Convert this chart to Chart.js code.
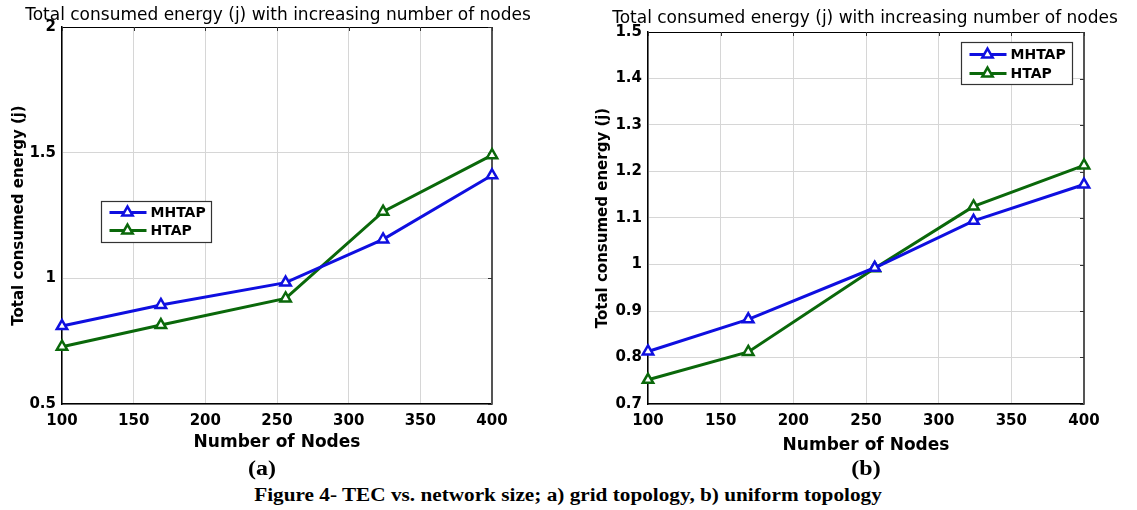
<!DOCTYPE html>
<html><head><meta charset="utf-8">
<script src="https://cdn.jsdelivr.net/npm/chart.js@4.4.1/dist/chart.umd.min.js"></script>
<style>
html,body{margin:0;padding:0;background:#fff;}
#wrap{position:relative;width:1137px;height:510px;overflow:hidden;background:#fff;}
.cv{position:absolute;top:0;height:460px;}
.t{position:absolute;white-space:nowrap;font-family:"DejaVu Sans";font-size:17px;color:#000;line-height:1;transform:translateX(-50%);}
.s{position:absolute;white-space:nowrap;font-family:"Liberation Serif";font-weight:bold;color:#000;line-height:1;transform-origin:50% 50%;}
</style></head>
<body><div id="wrap">
<div class="cv" style="left:0;width:545px;"><canvas id="c1"></canvas></div>
<div class="cv" style="left:570px;width:567px;"><canvas id="c2"></canvas></div>
<div class="t" style="left:278px;top:6px;">Total consumed energy (j) with increasing number of nodes</div>
<div class="t" style="left:865px;top:9px;">Total consumed energy (j) with increasing number of nodes</div>
<div class="s" style="left:262px;top:458px;font-size:20px;transform:translateX(-50%) scaleX(1.2);">(a)</div>
<div class="s" style="left:866px;top:458px;font-size:20px;transform:translateX(-50%) scaleX(1.2);">(b)</div>
<div class="s" style="left:568px;top:486px;font-size:18px;transform:translateX(-50%) scaleX(1.18);">Figure 4- TEC vs. network size; a) grid topology, b) uniform topology</div>
</div>
<script>
// ---- data ----
const nodes = [100, 169, 256, 324, 400];
const seriesNames = ['MHTAP', 'HTAP'];
const gridMHTAP = [0.81, 0.894, 0.983, 1.155, 1.41];
const gridHTAP = [0.728, 0.814, 0.92, 1.265, 1.49];
const uniformMHTAP = [0.813, 0.882, 0.993, 1.094, 1.172];
const uniformHTAP = [0.752, 0.812, 0.992, 1.125, 1.213];
const xTicks = [100, 150, 200, 250, 300, 350, 400];
const gridYTicks = [0.5, 1, 1.5, 2];
const uniformYTicks = [0.7, 0.8, 0.9, 1, 1.1, 1.2, 1.3, 1.4, 1.5];
const xTitle = 'Number of Nodes';
const yTitle = 'Total consumed energy (j)';

const BLUE = '#0f0fe0';
const GREEN = '#0a680a';
const FONT = 'DejaVu Sans';

const framePlugin = {
  id: 'frame',
  beforeDatasetsDraw(chart) {
    const {ctx, chartArea: a} = chart;
    ctx.save();
    ctx.strokeStyle = '#000';
    ctx.lineWidth = 1;
    ctx.beginPath();
    ctx.moveTo(a.left, a.top + 0.5); ctx.lineTo(a.right, a.top + 0.5);
    ctx.stroke();
    ctx.strokeStyle = '#555';
    ctx.lineWidth = 2;
    ctx.beginPath();
    ctx.moveTo(a.right, a.top); ctx.lineTo(a.right, a.bottom);
    ctx.stroke();
    ctx.lineWidth = 1;
    ctx.strokeStyle = '#333';
    const ys = chart.scales.y, xs = chart.scales.x;
    ys.ticks.forEach(t => { const p = Math.round(ys.getPixelForValue(t.value)) + 0.5; ctx.beginPath(); ctx.moveTo(a.right - 4, p); ctx.lineTo(a.right, p); ctx.stroke(); });
    xs.ticks.forEach(t => { const p = Math.round(xs.getPixelForValue(t.value)) + 0.5; ctx.beginPath(); ctx.moveTo(p, a.top); ctx.lineTo(p, a.top + 4); ctx.stroke(); });
    ctx.restore();
  }
};

function tri(ctx, x, y, r) {
  let rad = 0;
  ctx.beginPath();
  ctx.moveTo(x + Math.sin(rad) * r, y - Math.cos(rad) * r);
  rad += 2 * Math.PI / 3;
  ctx.lineTo(x + Math.sin(rad) * r, y - Math.cos(rad) * r);
  rad += 2 * Math.PI / 3;
  ctx.lineTo(x + Math.sin(rad) * r, y - Math.cos(rad) * r);
  ctx.closePath();
}

const boxLegendPlugin = {
  id: 'boxLegend',
  afterDatasetsDraw(chart, args, opts) {
    const {ctx, chartArea: a} = chart;
    const x0 = Math.round(a.left + opts.fx * (a.right - a.left)) + 0.5;
    const y0 = Math.round(a.top + opts.fy * (a.bottom - a.top)) + 0.5;
    ctx.save();
    ctx.fillStyle = '#fff';
    ctx.fillRect(x0, y0, opts.w, opts.h);
    ctx.strokeStyle = '#333';
    ctx.lineWidth = 1.2;
    ctx.strokeRect(x0, y0, opts.w, opts.h);
    chart.data.datasets.forEach((ds, i) => {
      const yy = y0 + opts.rows[i];
      ctx.strokeStyle = ds.borderColor;
      ctx.lineWidth = 3;
      ctx.beginPath(); ctx.moveTo(x0 + 8, yy); ctx.lineTo(x0 + 45, yy); ctx.stroke();
      tri(ctx, x0 + 26, yy, 6);
      ctx.fillStyle = '#fff'; ctx.fill();
      ctx.lineWidth = 2.5; ctx.stroke();
      ctx.fillStyle = '#000';
      ctx.font = 'bold 14px "' + FONT + '"';
      ctx.textBaseline = 'middle';
      ctx.textAlign = 'left';
      ctx.fillText(ds.label, x0 + 49, yy + 1);
    });
    ctx.restore();
  }
};

function mkDataset(label, ys, color) {
  return {
    label: label,
    data: nodes.map((n, i) => ({x: n, y: ys[i]})),
    borderColor: color,
    backgroundColor: color,
    borderWidth: 3,
    pointStyle: 'triangle',
    pointRadius: 6,
    pointHoverRadius: 6,
    pointBorderWidth: 2.5,
    pointBackgroundColor: '#fff',
    pointBorderColor: color,
    tension: 0,
    clip: false
  };
}

function makeChart(id, mh, ht, yTicks, cfg) {
  return new Chart(document.getElementById(id), {
    type: 'line',
    data: { datasets: [mkDataset(seriesNames[0], mh, BLUE), mkDataset(seriesNames[1], ht, GREEN)] },
    plugins: [framePlugin, boxLegendPlugin],
    options: {
      responsive: true,
      maintainAspectRatio: false,
      animation: false,
      events: [],
      layout: { padding: { left: 0, right: cfg.padRight, top: cfg.padTop, bottom: 0 } },
      plugins: {
        legend: { display: false },
        tooltip: { enabled: false },
        title: { display: false },
        boxLegend: cfg.legend
      },
      scales: {
        x: {
          type: 'linear',
          min: xTicks[0],
          max: xTicks[xTicks.length - 1],
          afterBuildTicks(s) { s.ticks = xTicks.map(v => ({value: v})); },
          afterFit(s) { s.height = 56; },
          grid: { color: '#d6d6d6', lineWidth: 1, drawTicks: false },
          border: { color: '#000', width: 1.5 },
          ticks: { color: '#000', padding: 8, maxRotation: 0, font: { family: FONT, size: 15, weight: 'bold' } },
          title: { display: true, text: xTitle, color: '#000', padding: { top: 0, bottom: cfg.xTitlePad }, font: { family: FONT, size: 17, weight: 'bold' } }
        },
        y: {
          type: 'linear',
          min: yTicks[0],
          max: yTicks[yTicks.length - 1],
          afterBuildTicks(s) { s.ticks = yTicks.map(v => ({value: v})); },
          afterFit(s) { s.width = cfg.yWidth; },
          grid: { color: '#d6d6d6', lineWidth: 1, drawTicks: false },
          border: { color: '#000', width: 1.5 },
          ticks: { color: '#000', padding: 6, font: { family: FONT, size: 15, weight: 'bold' },
                   callback: v => String(Math.round(v * 10) / 10) },
          title: { display: true, text: yTitle, color: '#000', padding: { top: cfg.yTitlePad, bottom: 0 }, font: { family: FONT, size: 15, weight: 'bold' } }
        }
      }
    }
  });
}

makeChart('c1', gridMHTAP, gridHTAP, gridYTicks, {
  padRight: 53, padTop: 27, yWidth: 62, xTitlePad: 6.8, yTitlePad: 10,
  legend: { fx: 0.0907, fy: 0.4615, w: 110, h: 41, rows: [11, 29] }
});
makeChart('c2', uniformMHTAP, uniformHTAP, uniformYTicks, {
  padRight: 53, padTop: 32, yWidth: 78, xTitlePad: 3.8, yTitlePad: 24,
  legend: { fx: 0.718, fy: 0.027, w: 111, h: 42, rows: [12, 31] }
});
</script>
</body></html>
